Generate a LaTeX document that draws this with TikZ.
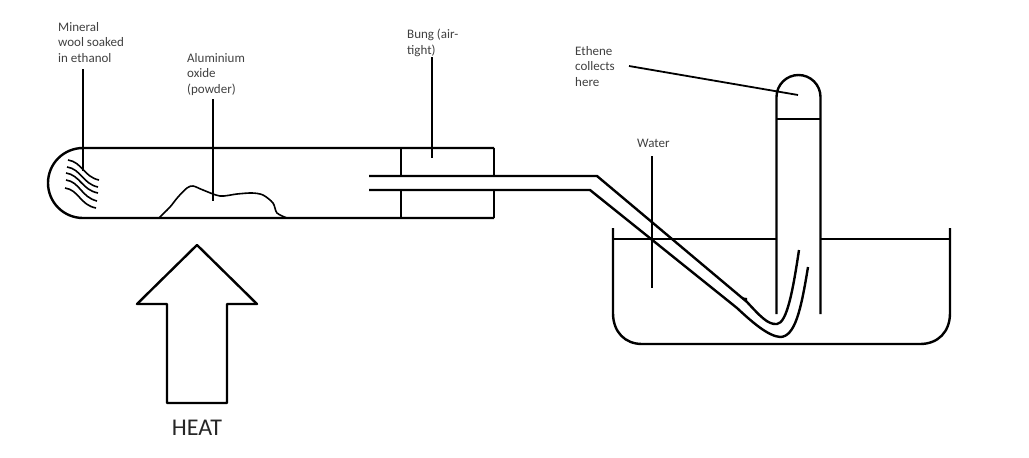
\documentclass[tikz,border=0pt]{standalone}
\usepackage{fontspec}
\setmainfont{Carlito}
\usetikzlibrary{positioning}

\tikzset{
    glass/.style={line width=2.4pt, line join=round},
    wool/.style={line width=1.6pt},
    leader/.style={line width=1.8pt},
    label/.style={anchor=north west, align=left, inner sep=0pt, text=black!75, font=\fontsize{13}{15.7}\selectfont}
}

\begin{document}
\begin{tikzpicture}[x=1pt,y=-1pt]

        \useasboundingbox (0,0) rectangle (1029,458);

        % test tube
        \draw[glass] (494,148) -- (83,148) arc (270:90:35) -- (494,218);

        % mineral wool
        \draw[wool] (68,160) .. controls (82,162) and (84,177) .. (99,180);
        \draw[wool] (67,167) .. controls (81,169) and (83,184) .. (98,187);
        \draw[wool] (66,173) .. controls (80,175) and (82,190) .. (98,193);
        \draw[wool] (66,180) .. controls (80,182) and (81,197) .. (97,201);
        \draw[wool] (65,188) .. controls (79,190) and (80,205) .. (96,208);

        % powder
        \draw[wool] plot[smooth, tension=0.5] coordinates {(159,218) (170,207) (178,197) (187,188) (193,186) (203,190) (220,196) (237,194) (252,193) (263,195) (273,203) (277,213) (287,218)};

        % bung
        \draw[glass] (401,148) -- (401,176);
        \draw[glass] (494,148) -- (494,176);
        \draw[glass] (401,190) -- (401,218);
        \draw[glass] (494,190) -- (494,218);

        % delivery tube
        \draw[glass] (369,176) -- (597,176) -- (747,302) .. controls (760,316) and (768,325) .. (777,324) .. controls (787,323) and (793,290) .. (799,250);
        \draw[glass] (369,190) -- (590,190) -- (737,308) .. controls (752,322) and (768,336) .. (780,337) .. controls (795,337) and (801,310) .. (808,267);
        \fill (741,297) -- (747,298) -- (747,303) -- cycle;

        % trough
        \draw[glass] (613,228) -- (613,313) .. controls (613,332) and (625,344) .. (642,344) -- (920,344) .. controls (938,344) and (950,332) .. (950,313) -- (950,228);

        % water level
        \draw[glass] (613,239) -- (776,239);
        \draw[glass] (820,239) -- (950,239);

        % collecting tube
        \draw[glass] (776.5,314) -- (776.5,97) arc (180:360:22) -- (820.5,314);
        \draw[glass] (776.5,119) -- (820.5,119);

        % heat arrow
        \draw[glass] (197,245) -- (257,304) -- (227,304) -- (227,403) -- (167,403) -- (167,304) -- (137,304) -- cycle;
        \node[anchor=center, inner sep=0pt, font=\fontsize{24}{28}\selectfont, text=black!85] (heat) at (197,428) {HEAT};

        % labels
        \node[label] (woollabel) at (58,22) {Mineral\\wool soaked\\in ethanol};
        \node[label] (powderlabel) at (187,53) {Aluminium\\oxide\\(powder)};
        \node[label] (bunglabel) at (407,29) {Bung (air-\\tight)};
        \node[label] (ethenelabel) at (575,46) {Ethene\\collects\\here};
        \node[label] (waterlabel) at (637,139) {Water};

        % leader ends
        \coordinate (woolstart) at (83,69);
        \coordinate (woolend) at (83,171);
        \coordinate (powderstart) at (213,99);
        \coordinate (powderend) at (213,201);
        \coordinate (bungstart) at (432,57);
        \coordinate (bungend) at (432,158);
        \coordinate (ethenestart) at (629,66);
        \coordinate (etheneend) at (798,95);
        \coordinate (waterstart) at (652,156);
        \coordinate (waterend) at (652,288);

        \draw[leader] (woolstart) -- (woolend);
        \draw[leader] (powderstart) -- (powderend);
        \draw[leader] (bungstart) -- (bungend);
        \draw[leader] (ethenestart) -- (etheneend);
        \draw[leader] (waterstart) -- (waterend);

\end{tikzpicture}
\end{document}
